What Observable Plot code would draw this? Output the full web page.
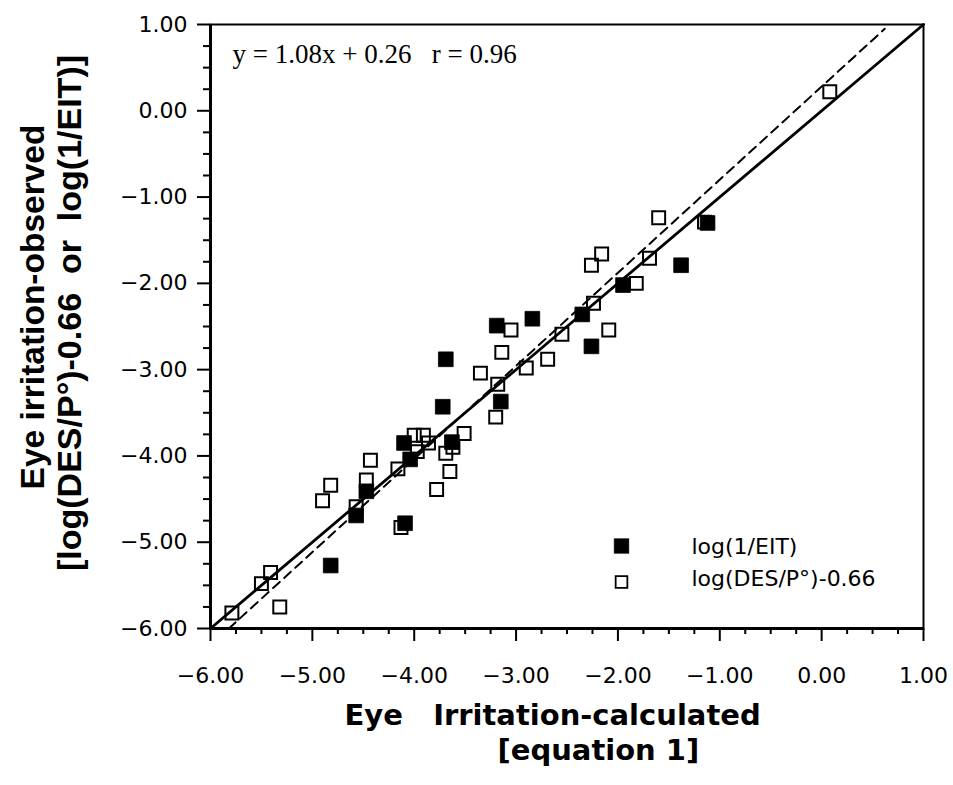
<!DOCTYPE html>
<html>
<head>
<meta charset="utf-8">
<script src="https://cdn.jsdelivr.net/npm/d3@7"></script>
<script src="https://cdn.jsdelivr.net/npm/@observablehq/plot@0.6"></script>
<style>
  html, body { margin: 0; padding: 0; background: #fff; }
  #chart svg { display: block; }
</style>
</head>
<body>
<div id="chart"></div>
<script>
// log(1/EIT) — filled squares
const eitX = [-1.12, -1.38, -1.95, -2.35, -2.26, -2.84, -3.19, -3.69, -3.72, -3.15, -4.10, -4.04, -3.63, -4.47, -4.57, -4.09, -4.82];
const eitY = [-1.30, -1.79, -2.02, -2.36, -2.73, -2.41, -2.49, -2.88, -3.43, -3.37, -3.85, -4.04, -3.84, -4.41, -4.69, -4.78, -5.27];

// log(DES/P°)-0.66 — open squares
const desX = [0.08, -1.60, -1.15, -1.69, -2.16, -2.26, -1.82, -2.24, -2.09, -2.55, -2.69, -2.90, -3.05, -3.14, -3.35, -3.18,
              -3.20, -3.51, -4.00, -3.91, -3.86, -3.97, -3.69, -3.62, -3.65, -3.78, -4.16, -4.43, -4.47, -4.57, -4.82, -4.90,
              -4.13, -5.41, -5.50, -5.79, -5.32];
const desY = [0.22, -1.24, -1.29, -1.71, -1.66, -1.79, -2.00, -2.23, -2.54, -2.59, -2.88, -2.98, -2.54, -2.80, -3.04, -3.17,
              -3.55, -3.74, -3.76, -3.76, -3.85, -3.95, -3.97, -3.90, -4.18, -4.39, -4.15, -4.05, -4.28, -4.59, -4.34, -4.52,
              -4.83, -5.35, -5.48, -5.82, -5.75];

// identity line (solid) and regression line (dashed) end points
const idX = [-6, 1];
const idY = [-6, 1];
const fitX = [-5.82, 0.62];
const fitY = [-6.00, 0.95];

// ticks
const majorTicks = [-6, -5, -4, -3, -2, -1, 0, 1];
const minorTicks = [-5.75, -5.5, -5.25, -4.75, -4.5, -4.25, -3.75, -3.5, -3.25, -2.75, -2.5, -2.25,
                    -1.75, -1.5, -1.25, -0.75, -0.5, -0.25, 0.25, 0.5, 0.75];

// texts
const equationText = ["y = 1.08x + 0.26\u00a0\u00a0\u00a0r = 0.96"];
const legendLabels = ["log(1/EIT)", "log(DES/P°)-0.66"];
const xTitle1 = ["Eye\u00a0\u00a0\u00a0Irritation-calculated"];
const xTitle2 = ["[equation 1]"];
const yTitle1 = ["Eye\u00a0irritation-observed"];
const yTitle2 = ["[log(DES/P°)-0.66\u00a0\u00a0or\u00a0\u00a0log(1/EIT)]"];

const eit = eitX.map((x, i) => ({x, y: eitY[i]}));
const des = desX.map((x, i) => ({x, y: desY[i]}));
const idLine = idX.map((x, i) => ({x, y: idY[i]}));
const fitLine = fitX.map((x, i) => ({x, y: fitY[i]}));
const fmt = d3.format(".2f");

const chart = Plot.plot({
  width: 953,
  height: 785,
  marginLeft: 210,
  marginRight: 30,
  marginTop: 24,
  marginBottom: 157,
  x: {domain: [-6, 1]},
  y: {domain: [-6, 1]},
  style: {fontFamily: "'DejaVu Sans', sans-serif", fontSize: "22px", color: "black", background: "white", overflow: "visible"},
  marks: [
    Plot.frame({stroke: "black", strokeWidth: 2}),
    // minor ticks
    Plot.axisX({ticks: minorTicks, tickSize: 6, strokeWidth: 2, tickFormat: () => "", label: null}),
    Plot.axisY({ticks: minorTicks, tickSize: 7, strokeWidth: 2, tickFormat: () => "", label: null}),
    // major ticks with labels
    Plot.axisX({ticks: majorTicks, tickSize: 13, tickPadding: 26, strokeWidth: 2, tickFormat: fmt, label: null, fontSize: 22}),
    Plot.axisY({ticks: majorTicks, tickSize: 13, tickPadding: 10, strokeWidth: 2, tickFormat: fmt, label: null, fontSize: 22}),
    Plot.ruleX([-6], {stroke: "black", strokeWidth: 3}),
    Plot.ruleY([-6], {stroke: "black", strokeWidth: 3}),
    // data
    Plot.dot(des, {x: "x", y: "y", symbol: "square", r: 7.3, fill: "none", stroke: "black", strokeWidth: 2}),
    Plot.dot(eit, {x: "x", y: "y", symbol: "square", r: 8.3, fill: "black", stroke: "black", strokeWidth: 0.8}),
    Plot.line(idLine, {x: "x", y: "y", stroke: "black", strokeWidth: 2.8}),
    Plot.line(fitLine, {x: "x", y: "y", stroke: "black", strokeWidth: 2, strokeDasharray: "9,6"}),
    // equation
    Plot.text(equationText, {text: d => d, frameAnchor: "top-left", dx: 22, dy: 30, textAnchor: "start", lineAnchor: "middle",
      fontFamily: "'Liberation Serif', 'Times New Roman', serif", fontSize: 27}),
    // legend
    Plot.dot([legendLabels[0]], {frameAnchor: "bottom-right", dx: -302, dy: -82.5, symbol: "square", r: 8.3, fill: "black", stroke: "black", strokeWidth: 0.5}),
    Plot.dot([legendLabels[1]], {frameAnchor: "bottom-right", dx: -302, dy: -46.5, symbol: "square", r: 6.6, fill: "none", stroke: "black", strokeWidth: 1.8}),
    Plot.text([legendLabels[0]], {text: d => d, frameAnchor: "bottom-right", dx: -232, dy: -82, textAnchor: "start", lineAnchor: "middle", fontSize: 22, letterSpacing: 0.5}),
    Plot.text([legendLabels[1]], {text: d => d, frameAnchor: "bottom-right", dx: -232, dy: -50, textAnchor: "start", lineAnchor: "middle", fontSize: 22, letterSpacing: 0.5}),
    // x title
    Plot.text(xTitle1, {text: d => d, frameAnchor: "bottom-left", dx: 134, dy: 87.7, textAnchor: "start", lineAnchor: "middle",
      fontWeight: "bold", fontSize: 29}),
    Plot.text(xTitle2, {text: d => d, frameAnchor: "bottom-left", dx: 287, dy: 122.7, textAnchor: "start", lineAnchor: "middle",
      fontWeight: "bold", fontSize: 29}),
    // y title
    Plot.text(yTitle1, {text: d => d, frameAnchor: "left", dx: -177.6, dy: -19.5, rotate: -90, textAnchor: "middle", lineAnchor: "middle",
      fontFamily: "'Liberation Sans', Arial, sans-serif", fontWeight: "bold", fontSize: 33.5}),
    Plot.text(yTitle2, {text: d => d, frameAnchor: "left", dx: -140.6, dy: -13.5, rotate: -90, textAnchor: "middle", lineAnchor: "middle",
      fontFamily: "'Liberation Sans', Arial, sans-serif", fontWeight: "bold", fontSize: 34})
  ]
});
document.getElementById("chart").appendChild(chart);
</script>
</body>
</html>
